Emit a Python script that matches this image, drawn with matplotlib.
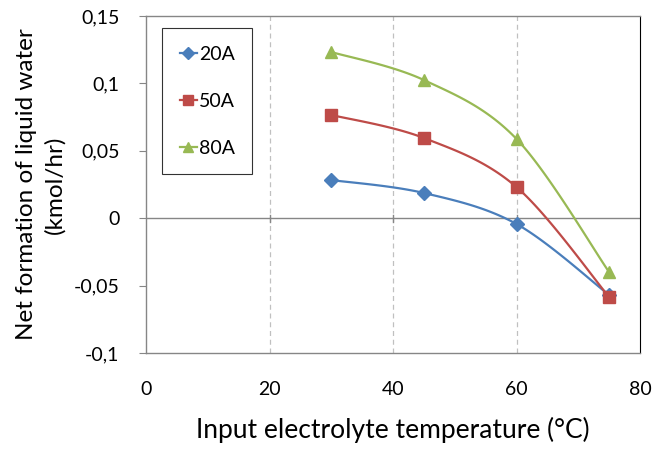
import numpy as np
import matplotlib
matplotlib.use("Agg")
import matplotlib.pyplot as plt
from matplotlib.ticker import FuncFormatter

plt.rcParams['font.family'] = ['Lato', 'DejaVu Sans']

temps = [30, 45, 60, 75]
water_20A = [0.0283, 0.0187, -0.0043, -0.0570]
water_50A = [0.0766, 0.0595, 0.0231, -0.0585]
water_80A = [0.1233, 0.1025, 0.0588, -0.0400]

series_labels = ["20A", "50A", "80A"]
series_colors = ["#4a7ebb", "#be4b48", "#98b954"]
series_markers = ["D", "s", "^"]


def smooth_curve(x, y, n=40):
    """Piecewise cubic Bezier through the points (spreadsheet-style smoothing)."""
    x = np.asarray(x, float)
    y = np.asarray(y, float)
    px = np.concatenate([[x[0]], x, [x[-1]]])
    py = np.concatenate([[y[0]], y, [y[-1]]])
    xs, ys = [], []
    t = np.linspace(0, 1, n)
    for i in range(1, len(x)):
        p0 = np.array([px[i], py[i]])
        p3 = np.array([px[i + 1], py[i + 1]])
        p1 = p0 + (np.array([px[i + 1], py[i + 1]]) - np.array([px[i - 1], py[i - 1]])) / 6
        p2 = p3 - (np.array([px[i + 2], py[i + 2]]) - np.array([px[i], py[i]])) / 6
        b = ((1 - t) ** 3)[:, None] * p0 + (3 * (1 - t) ** 2 * t)[:, None] * p1 \
            + (3 * (1 - t) * t ** 2)[:, None] * p2 + (t ** 3)[:, None] * p3
        xs.extend(b[:, 0])
        ys.extend(b[:, 1])
    return np.array(xs), np.array(ys)


fig = plt.figure(figsize=(6.56, 4.51), dpi=100)
ax = fig.add_axes([146 / 656, 1 - 353 / 451, (640 - 146) / 656, (353 - 16) / 451])

ax.set_xlim(0, 80)
ax.set_ylim(-0.1, 0.15)
ax.set_xticks([0, 20, 40, 60, 80])
ax.set_yticks([-0.1, -0.05, 0, 0.05, 0.1, 0.15])

for gx in [20, 40, 60]:
    ax.axvline(gx, color="#c0c0c0", lw=0.9, ls=(0, (4, 3)), zorder=1)
ax.axhline(0, color="#868686", lw=1.0, zorder=1)
for gx in [20, 40, 60]:
    ax.plot([gx, gx], [-0.0025, 0.0025], color="#868686", lw=1.0, zorder=1)

handles = []
for ys, lab, col, mk in zip([water_20A, water_50A, water_80A], series_labels,
                            series_colors, series_markers):
    sx, sy = smooth_curve(temps, ys)
    ax.plot(sx, sy, color=col, lw=1.6, zorder=3)
    ms = 8 if mk == "s" else (7.5 if mk == "D" else 8.5)
    ax.plot(temps, ys, ls="none", marker=mk, ms=ms, color=col, mec=col, zorder=4)
    h, = ax.plot([], [], color=col, lw=1.6, marker=mk, ms=ms - 1, mec=col, label=lab)
    handles.append(h)

fmt = FuncFormatter(lambda v, p: ("%g" % round(v, 3)).replace(".", ","))
ax.yaxis.set_major_formatter(fmt)
ax.xaxis.set_major_formatter(FuncFormatter(lambda v, p: "%d" % v))

for s in ax.spines.values():
    s.set_color("#868686")
    s.set_linewidth(1.0)
ax.spines["right"].set_color("#000000")
ax.spines["right"].set_linewidth(0.8)

ax.tick_params(axis="y", direction="out", length=5, color="#868686", labelsize=14, pad=14)
ax.tick_params(axis="x", length=0, labelsize=14, pad=20)

ax.set_xlabel("Input electrolyte temperature (°C)", fontsize=19, labelpad=14)
ax.set_ylabel("Net formation of liquid water\n(kmol/hr)", fontsize=17.5, labelpad=6,
              linespacing=1.4)

leg = ax.legend(handles=handles, loc="upper left", bbox_to_anchor=(16 / 494, 1 - 12 / 337),
                frameon=True, fancybox=False, edgecolor="black", fontsize=14,
                handlelength=0.9, handletextpad=0.1, labelspacing=1.55,
                borderpad=0.9, borderaxespad=0)
leg.get_frame().set_linewidth(0.8)

fig.savefig("out.png", dpi=100)
